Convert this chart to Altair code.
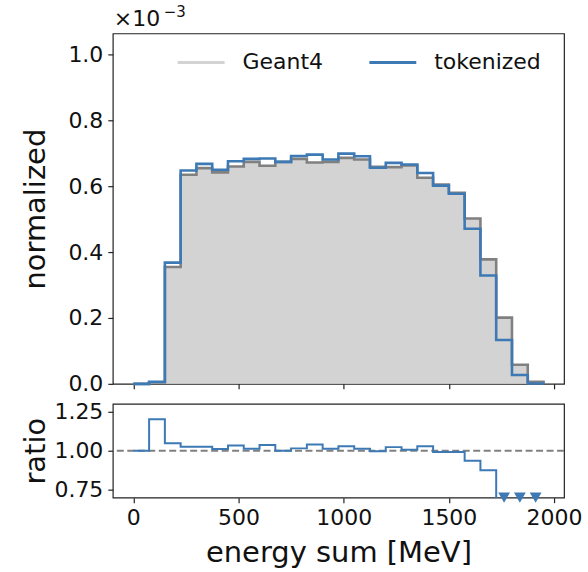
import altair as alt
import pandas as pd

# ---------------- data ----------------
BIN_START = 0
BIN_WIDTH = 75  # MeV, 26 bins from 0 to 1950

geant4 = [0.0, 0.005, 0.355, 0.635, 0.655, 0.642, 0.660, 0.674, 0.662, 0.674,
          0.683, 0.672, 0.674, 0.686, 0.681, 0.659, 0.658, 0.663, 0.626, 0.605,
          0.580, 0.502, 0.378, 0.201, 0.058, 0.006]
tokenized = [0.0, 0.006, 0.368, 0.648, 0.668, 0.650, 0.676, 0.683, 0.684, 0.674,
             0.692, 0.696, 0.681, 0.699, 0.691, 0.656, 0.671, 0.666, 0.640, 0.602,
             0.577, 0.471, 0.329, 0.133, 0.027, 0.001]
ratio = [1.0, 1.201, 1.047, 1.025, 1.025, 1.011, 1.034, 1.013, 1.036, 1.0,
         1.015, 1.040, 1.013, 1.029, 1.013, 0.996, 1.023, 1.006, 1.028, 0.992,
         0.992, 0.936, 0.875, 0.66, 0.47, 0.17]

x_ticks = [0, 500, 1000, 1500, 2000]
y_ticks = [0.0, 0.2, 0.4, 0.6, 0.8, 1.0]
ratio_ticks = [0.75, 1.00, 1.25]
x_domain = [-97.5, 2047.5]
y_domain = [0.0, 1.064]
ratio_domain = [0.7, 1.3]
ratio_ref = [1.0]
legend_labels = ["Geant4", "tokenized"]
offset_base = "\u00d710"
offset_exp = "\u22123"

# ---------------- styles ----------------
GRAY_FILL = "#d3d3d3"
GRAY_LINE = "#808080"
BLUE = "#3d7ab5"
FONT = "DejaVu Sans"
W = 452
H_MAIN = 351
H_RATIO = 94
TITLE_X = -68

n = len(geant4)
lefts = [BIN_START + i * BIN_WIDTH for i in range(n)]
rights = [l + BIN_WIDTH for l in lefts]
centers = [l + BIN_WIDTH / 2 for l in lefts]


def outline(vals, closed=True):
    xs, ys = [], []
    if closed:
        xs.append(lefts[0]); ys.append(0.0)
    for l, r, v in zip(lefts, rights, vals):
        xs += [l, r]
        ys += [v, v]
    if closed:
        xs.append(rights[-1]); ys.append(0.0)
    return pd.DataFrame({"x": xs, "y": ys, "o": list(range(len(xs)))})


fill_df = pd.DataFrame({"x": lefts + [rights[-1]], "y": geant4 + [geant4[-1]]})
one = pd.DataFrame({"k": [0]})

xs = alt.Scale(domain=x_domain, nice=False, zero=False)
ys = alt.Scale(domain=y_domain, nice=False, zero=False)
rs = alt.Scale(domain=ratio_domain, nice=False, zero=False)

# ---------------- main panel ----------------
area = alt.Chart(fill_df).mark_area(interpolate="step-after", color=GRAY_FILL).encode(
    x=alt.X("x:Q", scale=xs, axis=alt.Axis(values=x_ticks, labels=False, title=None)),
    y=alt.Y("y:Q", scale=ys, axis=alt.Axis(values=y_ticks, format=".1f", title="normalized",
                                           titleX=TITLE_X, titleY=H_MAIN / 2,
                                           titleBaseline="alphabetic")),
)
gline = alt.Chart(outline(geant4)).mark_line(color=GRAY_LINE, strokeWidth=2.6).encode(
    x="x:Q", y="y:Q", order="o:Q")
bline = alt.Chart(outline(tokenized)).mark_line(color=BLUE, strokeWidth=2.6).encode(
    x="x:Q", y="y:Q", order="o:Q")

leg_g_line = alt.Chart(one).mark_rule(color=GRAY_FILL, strokeWidth=3).encode(
    x=alt.value(65), x2=alt.value(112), y=alt.value(29))
leg_g_text = alt.Chart(one).mark_text(text=legend_labels[0], align="left", baseline="middle",
                                      font=FONT, fontSize=22, color="#111").encode(
    x=alt.value(130), y=alt.value(29))
leg_t_line = alt.Chart(one).mark_rule(color=BLUE, strokeWidth=3).encode(
    x=alt.value(257), x2=alt.value(304), y=alt.value(29))
leg_t_text = alt.Chart(one).mark_text(text=legend_labels[1], align="left", baseline="middle",
                                      font=FONT, fontSize=22, color="#111").encode(
    x=alt.value(322), y=alt.value(29))
base_text = alt.Chart(one).mark_text(text=offset_base, align="left", baseline="alphabetic",
                                     font=FONT, fontSize=22, color="#111").encode(
    x=alt.value(1), y=alt.value(-7))
exp_text = alt.Chart(one).mark_text(text=offset_exp, align="left", baseline="alphabetic",
                                    font=FONT, fontSize=15, color="#111").encode(
    x=alt.value(51), y=alt.value(-16))

main = alt.layer(area, gline, bline, leg_g_line, leg_g_text, leg_t_line, leg_t_text,
                 base_text, exp_text).properties(width=W, height=H_MAIN)

# ---------------- ratio panel ----------------
ratio_df = outline(ratio, closed=False)
tri_df = pd.DataFrame({"x": [c for c, r in zip(centers, ratio) if r < ratio_domain[0]]})
tri_df["y"] = ratio_domain[0]
ref_df = pd.DataFrame({"y": ratio_ref})

rline = alt.Chart(ratio_df).mark_line(color=BLUE, strokeWidth=2, clip=True).encode(
    x=alt.X("x:Q", scale=xs, axis=alt.Axis(values=x_ticks, format="d", title="energy sum [MeV]",
                                           titleY=64, titleBaseline="alphabetic")),
    y=alt.Y("y:Q", scale=rs, axis=alt.Axis(values=ratio_ticks, format=".2f", title="ratio",
                                           titleX=TITLE_X, titleY=H_RATIO / 2,
                                           titleBaseline="alphabetic")),
    order="o:Q",
)
ref = alt.Chart(ref_df).mark_rule(color=GRAY_LINE, strokeWidth=2, strokeDash=[7, 3.5]).encode(
    y="y:Q")
tri = alt.Chart(tri_df).mark_point(shape="triangle-down", filled=True, size=140, color=BLUE,
                                   opacity=1, clip=False).encode(x="x:Q", y="y:Q")

ratio_chart = alt.layer(ref, rline, tri).properties(width=W, height=H_RATIO)

chart = alt.vconcat(main, ratio_chart, spacing=20, bounds="flush").properties(
    padding={"left": 21, "top": 4, "right": 5, "bottom": 5},
    background="white",
).configure_view(
    stroke="#222", strokeWidth=1.2
).configure_axis(
    labelFont=FONT, titleFont=FONT, labelColor="#111", titleColor="#111",
    tickColor="#222", tickWidth=1.2, tickSize=5, labelFontSize=22, titleFontSize=29,
    titleFontWeight="normal", grid=False, domain=False, labelPadding=5, labelFlush=False,
)

chart.save("out.html", embed_options={"renderer": "svg", "actions": False})
